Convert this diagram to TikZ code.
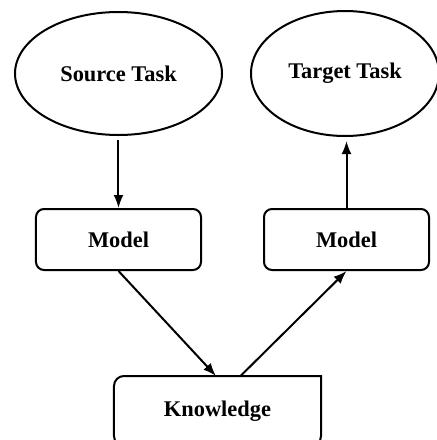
\documentclass[tikz,border=0pt]{standalone}
\usepackage{fontspec}
\setmainfont{Liberation Serif}
\usetikzlibrary{shapes.geometric, arrows.meta, positioning, shapes}

\begin{document}
\begin{tikzpicture}[node distance = 1cm, auto, line width=1pt,
    font=\bfseries\fontsize{11.2}{13}\selectfont]
  \tikzstyle{task} = [ellipse, draw, inner sep=0pt, text centered,
      minimum width=103.5pt, minimum height=61.5pt]
  \tikzstyle{block} = [rectangle, draw, rounded corners=4pt, inner sep=0pt,
      text centered, minimum width=82.5pt, minimum height=30.5pt]
  \tikzstyle{store} = [rectangle, inner sep=0pt, text centered,
      minimum width=102.5pt, minimum height=34pt]
  \tikzstyle{line} = [draw, -{Latex[length=6.5pt,width=5pt]}]
      \useasboundingbox (-59.25pt,-183.25pt) rectangle (159.25pt,36.75pt);
      % Place nodes
      \node [task] (source) at (0,0) {Source Task};
      \node [task, right=13.5pt of source, minimum width=94pt,
          minimum height=62.5pt] (target) {\raisebox{1pt}{Target Task}};
      \node [block, below=36pt of source] (srcmodel) {Model};
      \node [block, below=35.5pt of target, xshift=0.75pt] (tgtmodel) {Model};
      \node [store, below=52.5pt of srcmodel, xshift=49.5pt] (knowledge) {\raisebox{-1pt}{Knowledge}};
      \draw [rounded corners=5pt, line cap=rect] (knowledge.north east)
          -- (knowledge.north west) -- (knowledge.south west)
          -- (knowledge.south east) -- (knowledge.north east);

  %paths
      \path [line, shorten <=2pt] (source.south) -- (srcmodel);
      \path [line, shorten >=2pt] (tgtmodel.north) -- (tgtmodel.north |- target.south);
      \path [line] (srcmodel.south) -- ([xshift=-0.75pt]knowledge.north);
      \path [line] ([xshift=11.5pt]knowledge.north) -- (tgtmodel.south);

  \end{tikzpicture}
\end{document}
